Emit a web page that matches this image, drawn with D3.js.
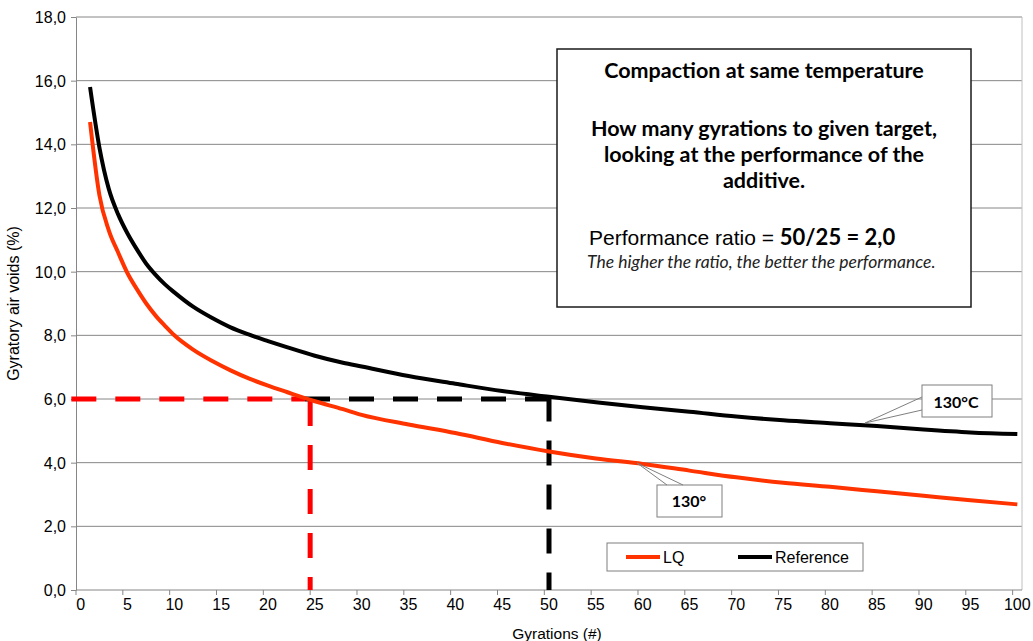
<!DOCTYPE html>
<html>
<head>
<meta charset="utf-8">
<script src="https://cdn.jsdelivr.net/npm/d3@7"></script>
<style>
  body { margin: 0; background: #fff; }
  svg { display: block; }
</style>
</head>
<body>
<svg id="chart"></svg>
<script>
// Gyrations sampled along each curve (category 0..100 on the axis)
const gyrations = [1, 2, 3, 4, 5, 6, 7, 8, 9, 10, 12, 14, 16, 18, 20, 22, 25, 28, 30, 35, 40, 45, 50, 55, 60, 65, 70, 75, 80, 85, 90, 95, 100];
const lqVoids = [14.7, 12.4, 11.3, 10.6, 9.95, 9.45, 9.0, 8.62, 8.3, 8.0, 7.55, 7.2, 6.9, 6.64, 6.42, 6.22, 5.93, 5.68, 5.5, 5.2, 4.93, 4.62, 4.35, 4.13, 3.96, 3.75, 3.54, 3.37, 3.24, 3.1, 2.96, 2.82, 2.69];
const refVoids = [15.8, 13.9, 12.6, 11.8, 11.2, 10.7, 10.25, 9.9, 9.6, 9.35, 8.9, 8.55, 8.25, 8.02, 7.82, 7.63, 7.36, 7.14, 7.02, 6.72, 6.48, 6.25, 6.07, 5.9, 5.74, 5.6, 5.45, 5.33, 5.24, 5.15, 5.04, 4.95, 4.9];

const xTicks = d3.range(0, 101, 5);
const yTicks = d3.range(0, 18.1, 2);
const targetVoids = 6.0;
const targetGyrations = [25, 50.5]; // where the dashed drop lines come down (LQ, Reference)

const width = 1033, height = 641;
const svg = d3.select('#chart').attr('width', width).attr('height', height);

const plotLeft = 76, plotRight = 1022, plotTop = 17, plotBottom = 590;

// category axis, one band per gyration, labels centred in the band
const x = d3.scaleBand().domain(d3.range(0, 101)).range([plotLeft, plotRight]).padding(0);
const bw = x.bandwidth();
const xLin = d3.scaleLinear().domain([0, 101]).range([plotLeft, plotRight]);
const y = d3.scaleLinear().domain([0, 18]).range([plotBottom, plotTop]);

const grey = '#868686';
const fmt = (d) => d3.format('.1f')(d).replace('.', ',');

// gridlines
svg.append('g')
  .selectAll('line')
  .data(yTicks.filter((d) => d > 0))
  .join('line')
  .attr('x1', plotLeft).attr('x2', plotRight)
  .attr('y1', (d) => y(d)).attr('y2', (d) => y(d))
  .attr('stroke', grey).attr('stroke-width', 1);

// plot area right edge
svg.append('line')
  .attr('x1', plotRight).attr('x2', plotRight).attr('y1', plotTop).attr('y2', plotBottom)
  .attr('stroke', '#c0c0c0');

// y axis
const yAxis = svg.append('g')
  .attr('transform', `translate(${plotLeft},0)`)
  .call(d3.axisLeft(y).tickValues(yTicks).tickFormat(fmt).tickSize(5).tickSizeOuter(0));
yAxis.select('.domain').attr('stroke', grey);
yAxis.selectAll('.tick line').attr('stroke', grey);
yAxis.selectAll('text')
  .attr('font-family', 'Liberation Sans, Arial, sans-serif')
  .attr('font-size', 16).attr('fill', '#000').attr('x', -10).attr('dy', '0.34em');

// x axis: labels at band centres, tick marks on band edges
const xAxis = svg.append('g')
  .attr('transform', `translate(0,${plotBottom})`)
  .call(d3.axisBottom(x).tickValues(xTicks).tickSize(0).tickSizeOuter(0));
xAxis.select('.domain').remove();
xAxis.selectAll('text')
  .attr('font-family', 'Liberation Sans, Arial, sans-serif')
  .attr('font-size', 16).attr('fill', '#000').attr('y', 9);
svg.append('line')
  .attr('x1', plotLeft).attr('x2', plotRight).attr('y1', plotBottom).attr('y2', plotBottom)
  .attr('stroke', grey);
svg.append('g')
  .selectAll('line')
  .data(xTicks)
  .join('line')
  .attr('x1', (d) => x(d)).attr('x2', (d) => x(d))
  .attr('y1', plotBottom).attr('y2', plotBottom + 5)
  .attr('stroke', grey);

// axis titles
svg.append('text')
  .attr('transform', `translate(19,${(plotTop + plotBottom) / 2}) rotate(-90)`)
  .attr('text-anchor', 'middle')
  .attr('font-family', 'Liberation Sans, Arial, sans-serif')
  .attr('font-size', 16)
  .text('Gyratory air voids (%)');
svg.append('text')
  .attr('x', 557).attr('y', 639)
  .attr('text-anchor', 'middle')
  .attr('font-family', 'Liberation Sans, Arial, sans-serif')
  .attr('font-size', 15.5)
  .text('Gyrations (#)');

// dashed target lines
const dash = '25,19';
svg.append('line')
  .attr('x1', xLin(-0.5)).attr('x2', xLin(24.45))
  .attr('y1', y(targetVoids)).attr('y2', y(targetVoids))
  .attr('stroke', '#ff0000').attr('stroke-width', 5).attr('stroke-dasharray', dash);
svg.append('line')
  .attr('x1', xLin(24.45)).attr('x2', xLin(targetGyrations[1]) + 2.5)
  .attr('y1', y(targetVoids)).attr('y2', y(targetVoids))
  .attr('stroke', '#000').attr('stroke-width', 5).attr('stroke-dasharray', dash);
svg.append('line')
  .attr('x1', xLin(targetGyrations[0])).attr('x2', xLin(targetGyrations[0]))
  .attr('y1', y(targetVoids) + 2).attr('y2', plotBottom)
  .attr('stroke', '#ff0000').attr('stroke-width', 5).attr('stroke-dasharray', dash);
svg.append('line')
  .attr('x1', xLin(targetGyrations[1])).attr('x2', xLin(targetGyrations[1]))
  .attr('y1', y(targetVoids) - 2.5).attr('y2', plotBottom)
  .attr('stroke', '#000').attr('stroke-width', 5).attr('stroke-dasharray', dash);

// curves
const line = d3.line()
  .curve(d3.curveMonotoneX)
  .x((d) => x(d[0]) + bw / 2)
  .y((d) => y(d[1]));
const series = [
  { name: 'LQ', values: lqVoids, color: '#ff3300' },
  { name: 'Reference', values: refVoids, color: '#000000' },
];
for (const s of series) {
  svg.append('path')
    .datum(gyrations.map((g, i) => [g, s.values[i]]))
    .attr('d', line)
    .attr('fill', 'none')
    .attr('stroke', s.color)
    .attr('stroke-width', 4)
    .attr('stroke-linejoin', 'round');
}

// legend
const legend = svg.append('g');
legend.append('rect')
  .attr('x', 607).attr('y', 543).attr('width', 256).attr('height', 28)
  .attr('fill', '#fff').attr('stroke', '#7f7f7f');
const legendX = [626, 738];
series.forEach((s, i) => {
  legend.append('line')
    .attr('x1', legendX[i]).attr('x2', legendX[i] + 34)
    .attr('y1', 557).attr('y2', 557)
    .attr('stroke', s.color).attr('stroke-width', 4);
  legend.append('text')
    .attr('x', legendX[i] + 37).attr('y', 563)
    .attr('font-family', 'Liberation Sans, Arial, sans-serif')
    .attr('font-size', 16)
    .text(s.name);
});

// annotation box
const note = svg.append('g');
note.append('rect')
  .attr('x', 557).attr('y', 49).attr('width', 414).attr('height', 258)
  .attr('fill', '#fff').attr('stroke', '#1a1a1a').attr('stroke-width', 1.5);
const cx = 764;
const boldLines = [
  ['Compaction at same temperature', 78],
  ['How many gyrations to given target,', 136],
  ['looking at the performance of the', 162],
  ['additive.', 188],
];
for (const [t, yy] of boldLines) {
  note.append('text')
    .attr('x', cx).attr('y', yy)
    .attr('text-anchor', 'middle')
    .attr('font-family', 'Lato, sans-serif')
    .attr('font-weight', 'bold')
    .attr('font-size', 21.5)
    .text(t);
}
const ratio = note.append('text')
  .attr('x', 589).attr('y', 245)
  .attr('font-size', 21);
ratio.append('tspan')
  .attr('font-family', 'Liberation Sans, Arial, sans-serif')
  .text('Performance ratio = ');
ratio.append('tspan')
  .attr('font-family', 'Lato, sans-serif').attr('font-weight', 'bold')
  .attr('font-size', 22)
  .text('50/25 = 2,0');
note.append('text')
  .attr('x', 587).attr('y', 268)
  .attr('font-family', 'Lato, sans-serif')
  .attr('font-style', 'italic')
  .attr('font-size', 17.5)
  .attr('fill', '#222')
  .text('The higher the ratio, the better the performance.');

// callouts
const callouts = [
  { label: '130°C', box: [922, 385, 70, 32], tip: [865, 423], base: [[922, 397], [922, 410]], tx: 956, ty: 408 },
  { label: '130°', box: [657, 485, 65, 32], tip: [637, 463], base: [[667, 485], [683, 485]], tx: 689, ty: 507 },
];
for (const c of callouts) {
  const g = svg.append('g');
  g.append('rect')
    .attr('x', c.box[0]).attr('y', c.box[1]).attr('width', c.box[2]).attr('height', c.box[3])
    .attr('fill', '#fff').attr('stroke', '#7f7f7f');
  g.append('path')
    .attr('d', `M${c.base[0][0]},${c.base[0][1]}L${c.tip[0]},${c.tip[1]}L${c.base[1][0]},${c.base[1][1]}`)
    .attr('fill', 'none').attr('stroke', '#7f7f7f');
  g.append('text')
    .attr('x', c.tx).attr('y', c.ty)
    .attr('text-anchor', 'middle')
    .attr('font-family', 'Lato, sans-serif')
    .attr('font-weight', 'bold')
    .attr('font-size', 16)
    .text(c.label);
}
</script>
</body>
</html>
